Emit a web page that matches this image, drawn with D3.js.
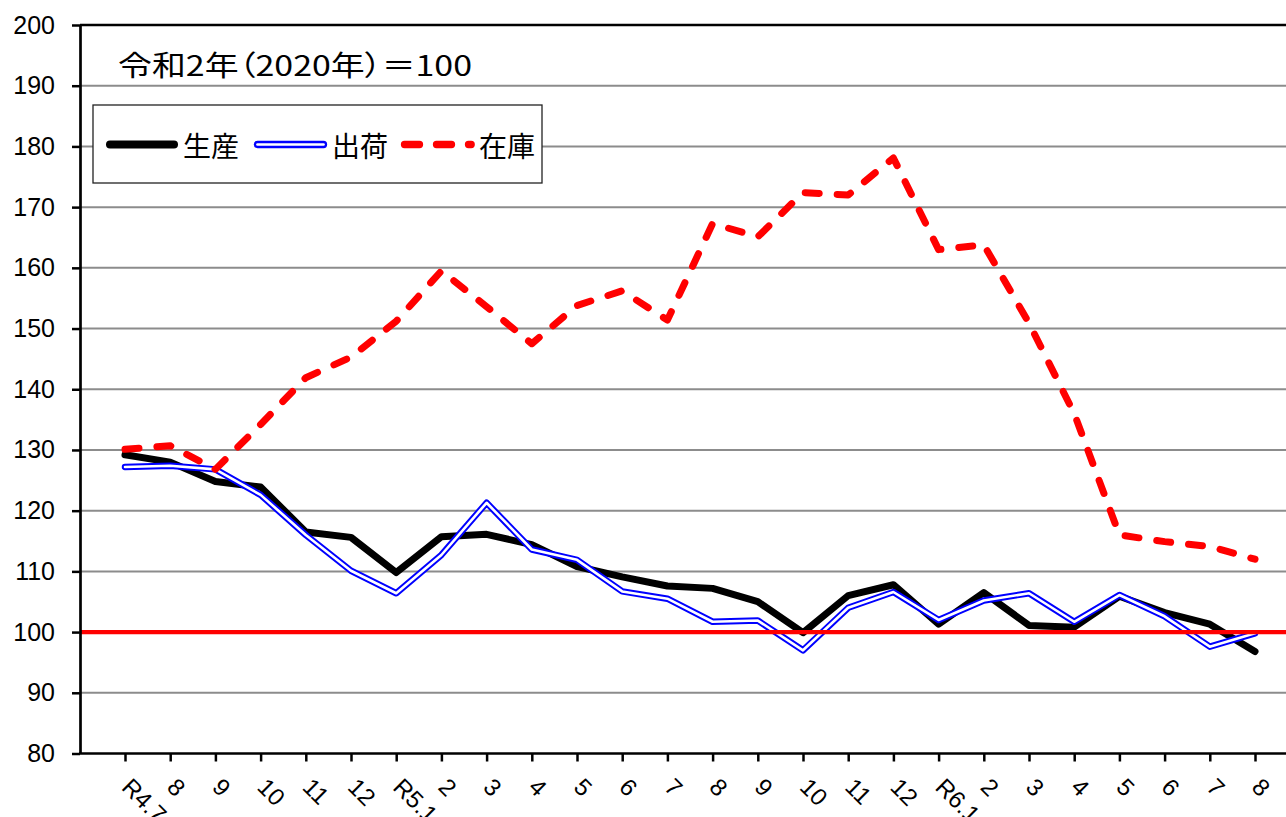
<!DOCTYPE html>
<html>
<head>
<meta charset="utf-8">
<script src="https://cdn.jsdelivr.net/npm/d3@7"></script>
<style>
  html, body { margin: 0; padding: 0; background: #fff; }
  svg { display: block; }
  .palt { font-feature-settings: "palt" 1; }
</style>
</head>
<body>
<svg id="chart" width="1286" height="817"></svg>
<script>
// ---- data ----
const monthLabels = ["R4.7","8","9","10","11","12","R5.1","2","3","4","5","6","7","8","9","10","11","12","R6.1","2","3","4","5","6","7","8"];
const production = [129.2,128.0,124.8,123.9,116.5,115.6,109.8,115.7,116.1,114.4,110.8,109.1,107.6,107.2,105.0,99.9,106.0,107.8,101.3,106.5,101.1,100.8,105.9,103.2,101.3,96.8];
const shipments  = [127.2,127.4,126.8,122.6,116.0,110.1,106.4,112.7,121.3,113.6,111.9,106.7,105.5,101.7,101.9,97.0,104.0,106.6,102.0,105.2,106.4,101.7,106.1,102.6,97.6,99.8];
const inventory  = [130.1,130.7,126.8,134.2,141.9,145.3,151.2,159.5,153.6,147.5,153.8,156.2,151.4,167.3,165.1,172.4,172.0,178.1,163.0,163.8,150.9,136.0,116.0,114.9,114.1,112.0];
const yTicks = [80,90,100,110,120,130,140,150,160,170,180,190,200];
const seriesNames = ["生産","出荷","在庫"];
const baseLabel = "令和2年（2020年）＝100";
const baseValue = 100;

// ---- layout ----
const svg = d3.select("#chart");
const axisX = 80, plotRight = 1286, plotTop = 25, plotBottom = 753.5;
const jpFont = "'Noto Sans CJK JP', sans-serif";
const numFont = "'Liberation Sans', Arial, sans-serif";

const x = d3.scalePoint().domain(d3.range(monthLabels.length)).range([125, 1255]);
const y = d3.scaleLinear().domain([80, 200]).range([plotBottom, plotTop]);

// gridlines
svg.append("g").selectAll("line")
  .data(yTicks.filter(v => v > 80 && v < 200))
  .join("line")
  .attr("x1", axisX).attr("x2", plotRight)
  .attr("y1", d => y(d)).attr("y2", d => y(d))
  .attr("stroke", "#8c8c8c").attr("stroke-width", 2);

// top border
svg.append("line")
  .attr("x1", axisX).attr("x2", plotRight)
  .attr("y1", y(200)).attr("y2", y(200))
  .attr("stroke", "#000").attr("stroke-width", 2.5);

const line = d3.line().x((d, i) => x(i)).y(d => y(d));

// production (black)
svg.append("path").datum(production)
  .attr("d", line).attr("fill", "none")
  .attr("stroke", "#000").attr("stroke-width", 7)
  .attr("stroke-linejoin", "round").attr("stroke-linecap", "round");

// shipments (blue double line)
svg.append("path").datum(shipments)
  .attr("d", line).attr("fill", "none")
  .attr("stroke", "#0000ff").attr("stroke-width", 6.5)
  .attr("stroke-linejoin", "round").attr("stroke-linecap", "round");
svg.append("path").datum(shipments)
  .attr("d", line).attr("fill", "none")
  .attr("stroke", "#fff").attr("stroke-width", 2.6)
  .attr("stroke-linejoin", "round").attr("stroke-linecap", "round");

// inventory (red dashed)
svg.append("path").datum(inventory)
  .attr("d", line).attr("fill", "none")
  .attr("stroke", "#ff0000").attr("stroke-width", 7)
  .attr("stroke-dasharray", "14 18")
  .attr("stroke-linejoin", "round").attr("stroke-linecap", "round");

// 100 reference line
svg.append("line")
  .attr("x1", axisX).attr("x2", plotRight)
  .attr("y1", y(baseValue)).attr("y2", y(baseValue))
  .attr("stroke", "#ff0000").attr("stroke-width", 4.3);

// y axis
const yAxis = svg.append("g")
  .attr("transform", `translate(${axisX},0)`)
  .call(d3.axisLeft(y).tickValues(yTicks).tickSize(8).tickSizeOuter(0).tickPadding(17));
yAxis.select(".domain").attr("stroke", "#000").attr("stroke-width", 2.7);
yAxis.selectAll(".tick line").attr("stroke", "#000").attr("stroke-width", 2.5);
yAxis.selectAll(".tick text")
  .attr("font-family", numFont).attr("font-size", 25).attr("fill", "#000");

// x axis
const xAxis = svg.append("g")
  .attr("transform", `translate(0,${plotBottom})`)
  .call(d3.axisBottom(x).tickSize(8).tickSizeOuter(0).tickFormat(i => monthLabels[i]));
xAxis.select(".domain").remove();
xAxis.append("line")
  .attr("x1", axisX - 1).attr("x2", plotRight)
  .attr("y1", 0).attr("y2", 0)
  .attr("stroke", "#000").attr("stroke-width", 2.7);
xAxis.selectAll(".tick line").attr("stroke", "#000").attr("stroke-width", 2.5);
xAxis.selectAll(".tick text")
  .attr("x", 0).attr("y", 0).attr("dy", 0)
  .attr("text-anchor", "start")
  .attr("transform", "translate(-5,35) rotate(45)")
  .attr("font-family", numFont).attr("font-size", 24).attr("fill", "#000");

// base label
svg.append("text")
  .attr("class", "palt")
  .attr("x", 118).attr("y", 64)
  .attr("dominant-baseline", "central")
  .attr("font-family", jpFont).attr("font-size", 28)
  .attr("textLength", 354).attr("lengthAdjust", "spacingAndGlyphs")
  .text(baseLabel);

// legend
const lg = svg.append("g");
lg.append("rect")
  .attr("x", 93).attr("y", 105).attr("width", 449).attr("height", 78)
  .attr("fill", "#fff").attr("stroke", "#222").attr("stroke-width", 1.3);
const ly = 144.5;
lg.append("line").attr("x1", 110).attr("x2", 174).attr("y1", ly).attr("y2", ly)
  .attr("stroke", "#000").attr("stroke-width", 8).attr("stroke-linecap", "round");
lg.append("line").attr("x1", 257.5).attr("x2", 323.5).attr("y1", ly).attr("y2", ly)
  .attr("stroke", "#0000ff").attr("stroke-width", 7.3).attr("stroke-linecap", "round");
lg.append("line").attr("x1", 257.5).attr("x2", 323.5).attr("y1", ly).attr("y2", ly)
  .attr("stroke", "#fff").attr("stroke-width", 2.7).attr("stroke-linecap", "round");
lg.append("line").attr("x1", 404.5).attr("x2", 471.2).attr("y1", ly).attr("y2", ly)
  .attr("stroke", "#ff0000").attr("stroke-width", 7.3).attr("stroke-linecap", "round")
  .attr("stroke-dasharray", "15 17");
const legendTextX = [183, 332, 479];
lg.selectAll("text.lt").data(seriesNames).join("text")
  .attr("class", "lt")
  .attr("x", (d, i) => legendTextX[i]).attr("y", ly)
  .attr("dominant-baseline", "central")
  .attr("font-family", jpFont).attr("font-size", 28).attr("fill", "#000")
  .text(d => d);
</script>
</body>
</html>
